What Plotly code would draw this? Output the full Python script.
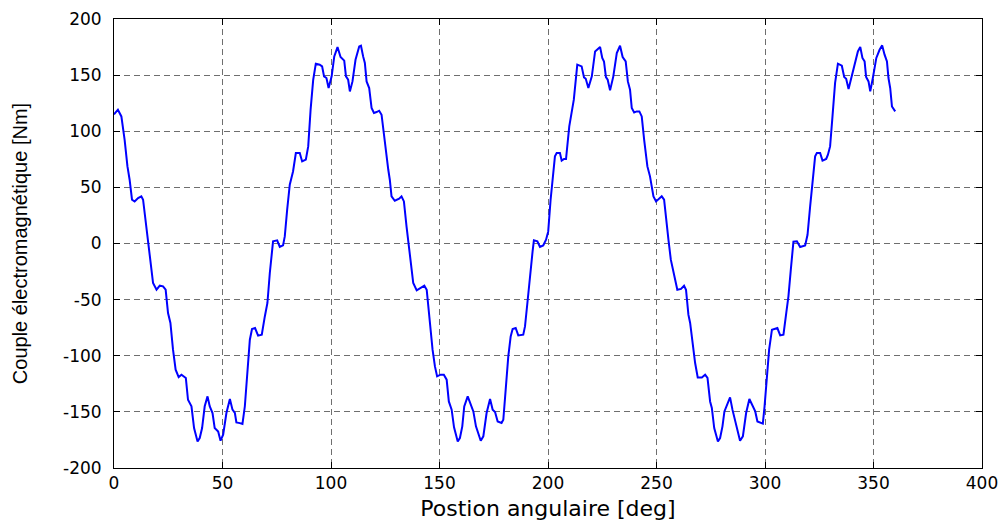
import plotly.graph_objects as go

# Angular position [deg]
angle = [
    0.0, 1.8, 3.4, 4.9, 6.2, 7.2, 8.3, 9.5, 11.1, 12.6, 13.4, 14.9, 15.7, 16.5, 18.0, 19.6,
    21.1, 22.6, 23.8, 24.9, 26.0, 27.2, 28.4, 29.8, 31.1, 33.1, 34.1, 35.7, 36.9, 38.5,
    39.5, 40.6, 41.8, 43.1, 44.1, 45.4, 46.4, 48.0, 49.1, 50.3, 51.8, 53.4, 54.6, 55.7,
    56.4, 58.0, 59.2, 60.3, 61.3, 62.6, 63.6, 65.0, 66.4, 68.1, 69.5, 70.7, 71.8, 73.3,
    75.2, 76.4, 77.9, 78.7, 79.8, 81.0, 82.5, 83.8, 85.6, 86.7, 88.4, 89.5, 90.6, 91.8,
    93.0, 94.8, 95.9, 96.8, 97.9, 98.9, 100.3, 101.5, 103.0, 104.4, 106.1, 106.9, 107.9,
    108.7, 109.9, 111.3, 113.0, 113.8, 114.8, 115.6, 116.4, 117.6, 118.7, 119.8, 121.0,
    122.2, 123.3, 124.8, 126.4, 127.1, 127.9, 129.4, 131.4, 132.5, 133.6, 134.8, 135.9,
    136.4, 137.9, 139.5, 141.3, 143.0, 144.1, 145.1, 145.6, 146.8, 147.9, 148.9, 150.5,
    152.0, 153.3, 154.3, 155.6, 156.7, 158.4, 159.4, 160.5, 161.4, 163.0, 164.0, 165.6,
    166.8, 167.6, 169.0, 170.2, 171.7, 173.3, 174.5, 175.6, 176.8, 178.6, 179.4, 180.5,
    181.7, 182.8, 183.7, 185.1, 186.3, 188.6, 189.4, 190.5, 191.7, 192.9, 193.5, 195.1,
    196.3, 197.8, 199.1, 200.1, 201.2, 202.2, 203.2, 204.0, 205.5, 206.3, 207.4, 208.3,
    209.8, 211.9, 213.5, 215.5, 216.6, 217.4, 218.6, 220.2, 221.7, 224.0, 225.0, 225.8,
    226.7, 227.5, 228.6, 230.1, 231.7, 233.2, 234.4, 235.8, 236.8, 237.8, 238.6, 239.7,
    240.9, 242.1, 243.2, 244.3, 245.8, 247.0, 248.6, 249.8, 250.9, 252.4, 253.5, 254.7,
    255.5, 256.6, 258.1, 259.6, 261.3, 262.7, 263.6, 264.7, 265.5, 266.7, 267.8, 269.0,
    270.9, 272.4, 273.5, 274.7, 275.5, 276.6, 278.3, 279.3, 280.4, 281.3, 282.9, 283.9,
    285.0, 285.9, 287.0, 288.5, 289.8, 291.3, 292.8, 294.2, 295.5, 296.5, 298.1, 299.0,
    299.8, 300.9, 301.9, 303.2, 304.7, 305.7, 307.0, 308.5, 309.8, 310.8, 311.9, 313.1,
    314.7, 316.2, 318.5, 319.6, 320.8, 322.0, 323.1, 323.9, 325.4, 326.5, 328.2, 329.0,
    330.0, 331.1, 332.3, 333.6, 335.4, 336.5, 337.4, 338.5, 339.7, 341.3, 342.8, 343.9,
    344.9, 345.9, 346.6, 347.7, 348.5, 349.7, 351.3, 352.8, 354.0, 355.1, 356.2, 356.9,
    357.7, 358.5, 360.0,
]

# Electromagnetic torque [Nm]
torque = [
    115.0, 119.2, 113.2, 92.4, 68.7, 56.8, 39.0, 37.5, 40.5, 42.0, 39.0, 15.2, 3.4, -11.5, -35.2, -41.2,
    -37.6, -38.2, -41.2, -62.0, -70.8, -94.6, -112.4, -119.0, -116.9, -119.8, -139.2, -145.0, -164.4, -176.3,
    -173.3, -164.4, -145.0, -136.2, -145.0, -151.0, -164.4, -167.4, -175.7, -170.3, -151.0, -138.5, -148.0, -151.0,
    -159.4, -160.0, -160.8, -145.0, -115.4, -85.7, -76.2, -75.3, -82.1, -81.2, -65.0, -53.0, -26.3, 1.9,
    2.8, -3.1, -1.7, 6.3, 30.1, 52.4, 64.2, 80.6, 80.6, 73.1, 74.7, 86.5, 119.2, 145.9,
    160.2, 159.3, 157.8, 148.9, 147.4, 138.5, 148.9, 166.7, 175.0, 166.1, 162.9, 148.9, 145.9,
    135.5, 144.4, 163.7, 175.6, 176.2, 166.7, 160.8, 144.4, 138.5, 120.7, 116.3, 117.1,
    118.3, 114.7, 89.5, 65.7, 56.8, 42.0, 38.1, 39.9, 42.0, 37.5, 15.2, -2.6,
    -11.5, -35.2, -41.8, -39.6, -37.6, -41.2, -62.0, -69.4, -94.6, -109.5, -118.4, -116.9,
    -116.9, -121.3, -140.7, -148.0, -163.8, -176.3, -173.3, -162.9, -145.1, -136.2, -142.1, -149.6,
    -162.9, -167.4, -175.7, -171.8, -151.0, -138.5, -148.0, -150.1, -158.5, -159.9, -157.0, -130.2,
    -100.6, -82.8, -76.2, -75.3, -81.9, -81.2, -73.9, -53.0, -26.3, -7.0, 2.8, 1.9,
    -3.1, -1.7, 3.4, 10.8, 39.0, 59.8, 77.6, 80.6, 80.6, 73.8, 75.3, 75.3,
    104.3, 128.1, 159.3, 157.8, 148.0, 146.8, 138.5, 148.9, 171.1, 175.0, 165.3, 162.2,
    148.3, 145.9, 136.4, 148.9, 169.7, 176.2, 166.1, 162.2, 144.4, 137.0, 120.7, 116.8,
    117.7, 117.7, 113.2, 92.5, 68.7, 59.8, 42.0, 37.5, 39.6, 42.0, 39.0, 15.2,
    3.4, -14.4, -29.3, -41.2, -40.5, -37.6, -41.2, -63.4, -70.8, -91.7, -106.5, -119.3,
    -119.3, -116.9, -119.8, -140.7, -146.5, -164.4, -176.3, -173.3, -162.9, -149.6, -140.7, -137.1,
    -148.0, -155.5, -165.9, -175.7, -171.8, -151.0, -138.5, -144.5, -149.6, -158.5, -159.4, -160.5,
    -145.1, -121.3, -94.6, -76.8, -75.9, -75.3, -81.9, -81.2, -61.9, -47.1, -23.3, 1.6,
    1.9, -3.1, -1.7, 7.8, 33.0, 59.8, 77.6, 80.6, 80.6, 73.8, 75.3, 79.1,
    86.5, 113.2, 143.0, 160.2, 158.4, 148.3, 146.8, 137.6, 147.4, 159.3, 171.1, 175.0,
    165.3, 162.2, 148.3, 144.4, 135.5, 147.4, 165.3, 172.6, 176.5, 168.2, 162.2, 147.4,
    138.5, 122.1, 117.7,
]

x_ticks = [0, 50, 100, 150, 200, 250, 300, 350, 400]
y_ticks = [-200, -150, -100, -50, 0, 50, 100, 150, 200]

x_title = "Postion angulaire [deg]"
y_title = "Couple électromagnétique [Nm]"

fig = go.Figure()
fig.add_trace(go.Scatter(
    x=angle, y=torque, mode="lines",
    line=dict(color="#0000ff", width=2),
    showlegend=False,
))

axis_common = dict(
    automargin=False,
    showline=True, linecolor="black", linewidth=1, mirror="ticks",
    ticks="inside", ticklen=6, tickcolor="black", tickwidth=1,
    showgrid=True, gridcolor="#6e6e6e", gridwidth=1, griddash="6px,4px",
    zeroline=False,
    tickfont=dict(family="DejaVu Sans", size=17, color="black"),
)

fig.update_xaxes(
    range=[0, 400], tickvals=x_ticks, ticktext=[str(v) for v in x_ticks],
    title=dict(text=x_title, font=dict(family="DejaVu Sans", size=22, color="black"), standoff=14),
    ticklabelstandoff=0,
    **axis_common,
)
fig.update_yaxes(
    range=[-200, 200], tickvals=y_ticks, ticktext=[str(v) for v in y_ticks],
    title=dict(text=y_title, font=dict(family="Liberation Sans", size=20, color="black"), standoff=30),
    ticklabelstandoff=8,
    **axis_common,
)

fig.update_layout(
    width=1005, height=521,
    margin=dict(l=114, r=23, t=19, b=53),
    paper_bgcolor="white", plot_bgcolor="white",
)

fig.write_html("out.html")
